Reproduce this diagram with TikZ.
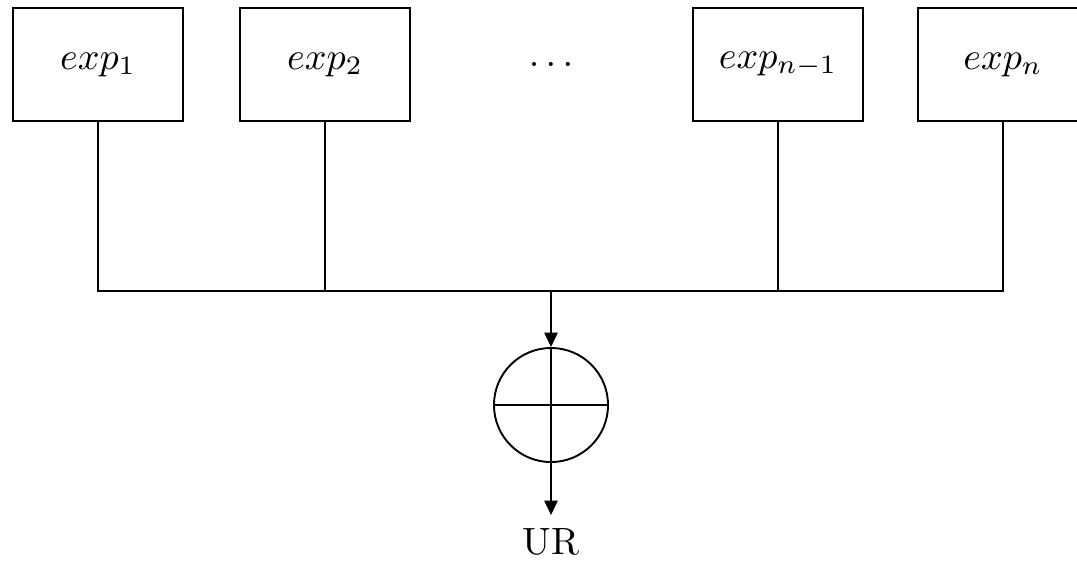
\documentclass[tikz,border=0pt]{standalone}
\usetikzlibrary{arrows.meta}
\begin{document}
\begin{tikzpicture}[x=0.263pt,y=-0.263pt,
  line width=0.5pt,
  expbox/.style={draw,minimum width=44.7pt,minimum height=29.7pt,inner sep=0pt},
  sumnode/.style={draw,circle,minimum size=30pt,inner sep=0pt},
  flow/.style={-{Triangle[length=3.8pt,width=3.5pt]}}]
\clip (0,0) rectangle (1077,563);
% expert boxes
\node[expbox] (e1) at (98,64.5) {$exp_1$};
\node[expbox] (e2) at (325,64.5) {$exp_2$};
\node[inner sep=0pt] (dots) at (551,64.5) {$\ldots$};
\node[expbox] (e3) at (778,64.5) {$exp_{n-1}$};
\node[expbox] (e4) at (1003,64.5) {$exp_n$};
% collecting bus
\coordinate (bus) at (551,291);
\draw (e1.south) -- (e1.south |- bus) -- (e4.south |- bus) -- (e4.south);
\draw (e2.south) -- (e2.south |- bus);
\draw (e3.south) -- (e3.south |- bus);
% summation
\node[sumnode] (sum) at (551,405) {};
\draw (sum.north) -- (sum.south);
\draw (sum.west) -- (sum.east);
\draw[flow] (bus) -- (sum.north);
\node (ur) at (551,542) {UR};
\draw[flow] (sum.south) -- (ur.north);
\end{tikzpicture}
\end{document}
